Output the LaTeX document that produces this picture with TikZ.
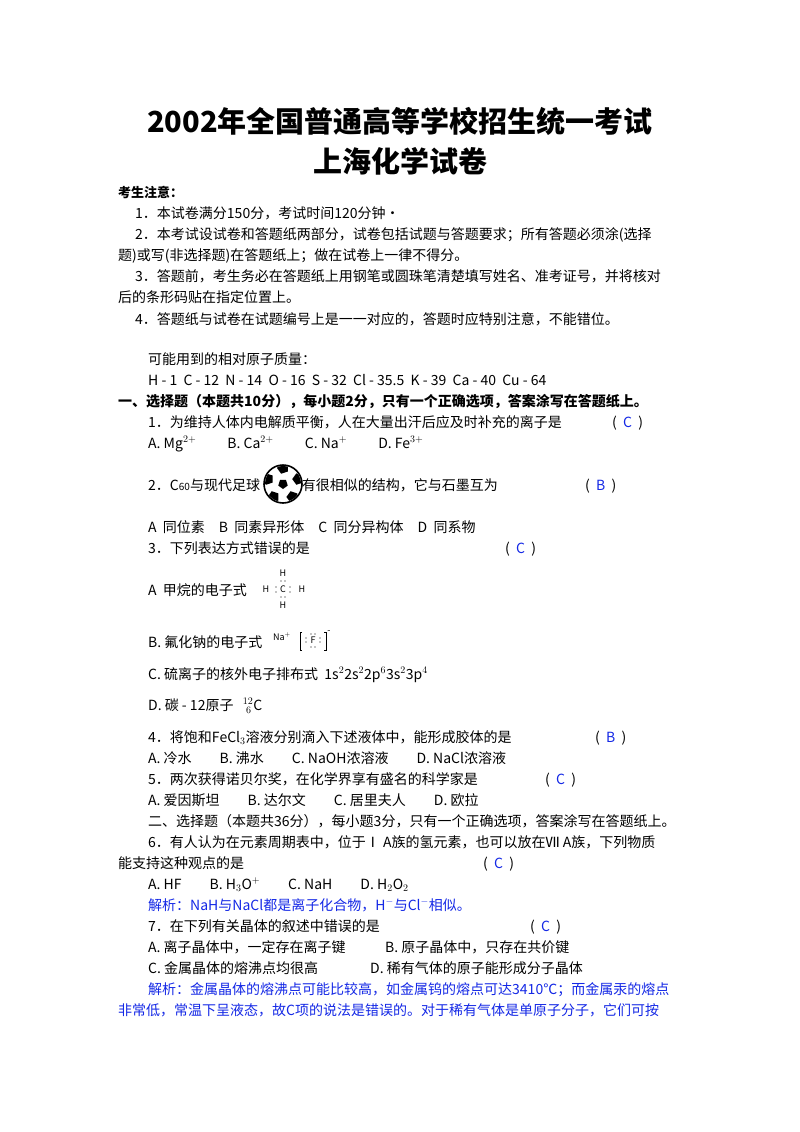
\documentclass[tikz,border=0pt]{standalone}
\usepackage{fontspec}
\setmainfont{Noto Sans CJK SC}
\usepackage{tikz}
\usetikzlibrary{positioning}
\definecolor{ans}{RGB}{20,40,230}

\begin{document}
\begin{tikzpicture}[x=1pt,y=-1pt,
        line/.style={anchor=base west,inner sep=0pt,font=\fontsize{14}{16}\selectfont},
        note/.style={anchor=base west,inner sep=0pt,font=\fontsize{14}{16}\selectfont},
        title/.style={anchor=base,inner sep=0pt,font=\fontsize{29}{32}\selectfont\bfseries},
        answer/.style={anchor=base west,inner sep=0pt,font=\fontsize{14}{16}\selectfont},
        dot/.style={inner sep=0pt,font=\fontsize{9}{10}\selectfont}]
\useasboundingbox (0,0) rectangle (800,1132);
\fill[white] (0,0) rectangle (800,1132);

% Title %
\node[title] (t1) at (400,132) {2002年全国普通高等学校招生统一考试};
\node[title] (t2) at (400,172) {上海化学试卷};

% Notes %
\node[note,font=\fontsize{13}{15}\selectfont\bfseries] (n0) at (118,197) {考生注意：};
\node[note] (n1) at (135,218) {1．本试卷满分150分，考试时间120分钟·};
\node[note] (n2) at (135,239) {2．本考试设试卷和答题纸两部分，试卷包括试题与答题要求；所有答题必须涂(选择};
\node[note] (n2b) at (118,260) {题)或写(非选择题)在答题纸上；做在试卷上一律不得分。};
\node[note] (n3) at (135,281) {3．答题前，考生务必在答题纸上用钢笔或圆珠笔清楚填写姓名、准考证号，并将核对};
\node[note] (n3b) at (118,302) {后的条形码贴在指定位置上。};
\node[note] (n4) at (135,324) {4．答题纸与试卷在试题编号上是一一对应的，答题时应特别注意，不能错位。};
\node[line] (m0) at (148,364) {可能用到的相对原子质量：};
\node[line] (m1) at (148,385) {H - 1\ \ C - 12\ \ N - 14\ \ O - 16\ \ S - 32\ \ Cl - 35.5\ \ K - 39\ \ Ca - 40\ \ Cu - 64};

% Part one %
\node[line,font=\fontsize{14}{16}\selectfont\bfseries] (p1) at (118,406) {一、选择题（本题共10分），每小题2分，只有一个正确选项，答案涂写在答题纸上。};
\node[line] (q1) at (148,427) {1．为维持人体内电解质平衡，人在大量出汗后应及时补充的离子是};
\node[answer] (a1) at (612,427) {(\ \ \textcolor{ans}{C}\ \ )};
\node[line] (q1o) at (148,448) {A. Mg$^{2+}$\qquad\ B. Ca$^{2+}$\qquad\ C. Na$^{+}$\qquad\ D. Fe$^{3+}$};
\node[line] (q2) at (148,490) {2．C{\fontsize{10}{10}\selectfont 60}与现代足球\hspace{42pt}有很相似的结构，它与石墨互为};
\node[answer] (a2) at (585,490) {(\ \ \textcolor{ans}{B}\ \ )};
% ball %
\node[circle,draw,line width=1.6pt,minimum size=38pt,inner sep=0pt] (ball) at (283,484) {};
\begin{scope}
\clip (ball.center) circle (18pt);
\fill[black] (283,484) +(90:5) -- +(162:5) -- +(234:5) -- +(306:5) -- +(18:5) -- cycle;
\foreach \a in {18,90,162,234,306} {
  \fill[black] (283,484) ++(\a:-16) +(\a+90:6) -- +(\a+162:6) -- +(\a+234:6) -- +(\a+306:6) -- +(\a+18:6) -- cycle;}
\end{scope}
\node[line] (q2o) at (148,532) {A\ \ 同位素\quad B\ \ 同素异形体\quad C\ \ 同分异构体\quad D\ \ 同系物};
\node[line] (q3) at (148,553) {3．下列表达方式错误的是};
\node[answer] (a3) at (505,553) {(\ \ \textcolor{ans}{C}\ \ )};
\node[line] (q3a) at (148,595) {A\ \ 甲烷的电子式};
\node[dot] (ch) at (283,589) {C};
\node[dot] (hl) at (266,589) {H};
\node[dot] (hr) at (302,589) {H};
\node[dot] (ht) at (283,573) {H};
\node[dot] (hb) at (283,605) {H};
\foreach \p in {(276,587),(276,592),(290,587),(290,592),(281,581),(285,581),(281,597),(285,597)}
  \fill \p circle (0.7pt);
\node[line] (q3b) at (148,647) {B. 氟化钠的电子式};
\node[dot] (na) at (282,637) {Na$^{+}$};
\node[dot] (ff) at (313,640) {F};
\draw[semithick] (302,632) -- (300,632) -- (300,650) -- (302,650);
\draw[semithick] (324,632) -- (326,632) -- (326,650) -- (324,650);
\node[dot] (fm) at (329,632) {-};
\foreach \p in {(306,638),(306,642),(320,638),(320,642),(311,634),(315,634),(311,647),(315,647)}
  \fill \p circle (0.7pt);
\node[line] (q3c) at (148,679) {C. 硫离子的核外电子排布式\ \ 1s$^2$2s$^2$2p$^6$3s$^2$3p$^4$};
\node[line] (q3d) at (148,710) {D. 碳 - 12原子\ \ \ ${}^{12}_{\ 6}$C};
\node[line] (q4) at (148,742) {4．将饱和FeCl$_3$溶液分别滴入下述液体中，能形成胶体的是};
\node[answer] (a4) at (595,742) {(\ \ \textcolor{ans}{B}\ \ )};
\node[line] (q4o) at (148,763) {A. 冷水\qquad B. 沸水\qquad C. NaOH浓溶液\qquad D. NaCl浓溶液};
\node[line] (q5) at (148,784) {5．两次获得诺贝尔奖，在化学界享有盛名的科学家是};
\node[answer] (a5) at (545,784) {(\ \ \textcolor{ans}{C}\ \ )};
\node[line] (q5o) at (148,805) {A. 爱因斯坦\qquad B. 达尔文\qquad C. 居里夫人\qquad D. 欧拉};

% Part two %
\node[line] (p2) at (148,826) {二、选择题（本题共36分），每小题3分，只有一个正确选项，答案涂写在答题纸上。};
\node[line] (q6) at (148,847) {6．有人认为在元素周期表中，位于Ⅰ A族的氢元素，也可以放在Ⅶ A族，下列物质};
\node[line] (q6b) at (118,868) {能支持这种观点的是};
\node[answer] (a6) at (483,868) {(\ \ \textcolor{ans}{C}\ \ )};
\node[line] (q6o) at (148,889) {A. HF\qquad B. H$_3$O$^+$\qquad C. NaH\qquad D. H$_2$O$_2$};
\node[line,text=ans] (s6) at (148,910) {解析：NaH与NaCl都是离子化合物，H$^-$与Cl$^-$相似。};
\node[line] (q7) at (148,931) {7．在下列有关晶体的叙述中错误的是};
\node[answer] (a7) at (530,931) {(\ \ \textcolor{ans}{C}\ \ )};
\node[line] (q7a) at (148,952) {A. 离子晶体中，一定存在离子键};
\node[line] (q7b) at (385,952) {B. 原子晶体中，只存在共价键};
\node[line] (q7c) at (148,973) {C. 金属晶体的熔沸点均很高};
\node[line] (q7d) at (370,973) {D. 稀有气体的原子能形成分子晶体};
\node[line,text=ans] (s7) at (148,994) {解析：金属晶体的熔沸点可能比较高，如金属钨的熔点可达3410℃；而金属汞的熔点};
\node[line,text=ans] (s7b) at (118,1015) {非常低，常温下呈液态，故C项的说法是错误的。对于稀有气体是单原子分子，它们可按};
\end{tikzpicture}
\end{document}
